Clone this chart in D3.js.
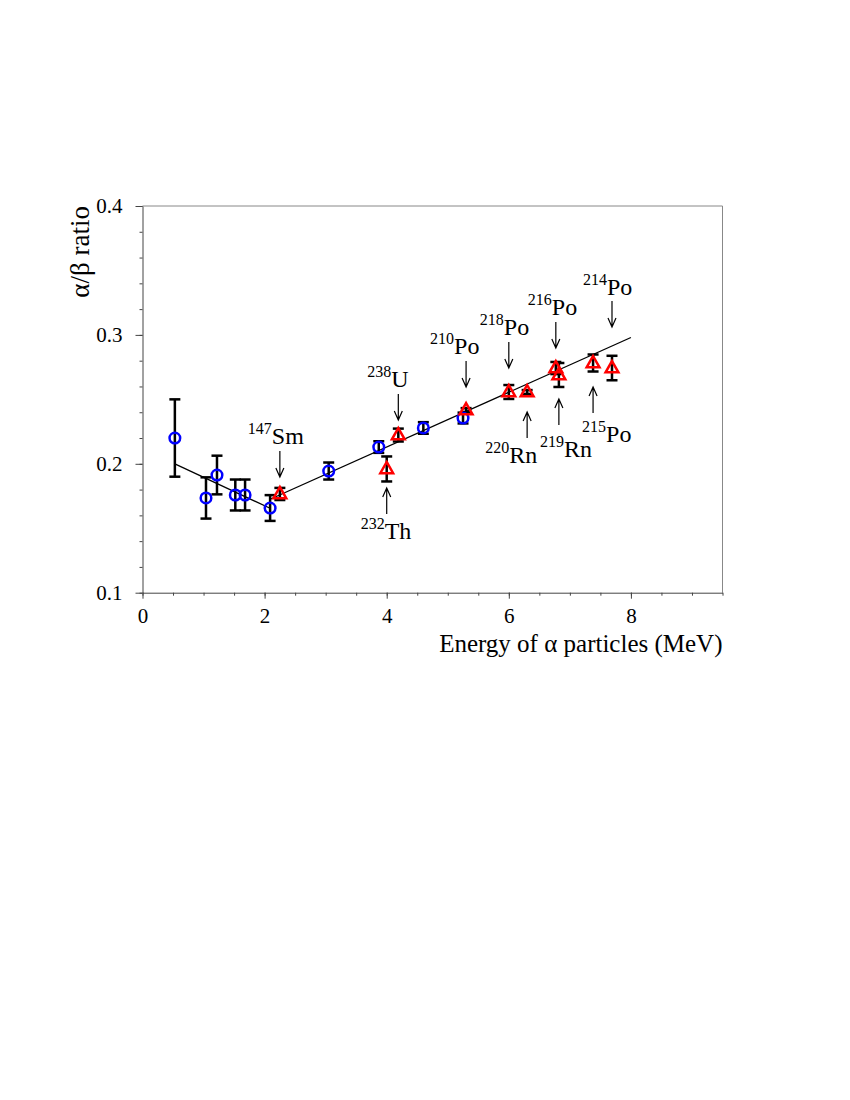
<!DOCTYPE html>
<html>
<head>
<meta charset="utf-8">
<script src="https://cdn.jsdelivr.net/npm/d3@7/dist/d3.min.js"></script>
<style>
  body { margin: 0; background: #fff; }
  text { font-family: "Liberation Serif", "Times New Roman", serif; fill: #000; }
</style>
</head>
<body>
<div id="chart"></div>
<script>
// Blue circles: measured points (energy in MeV, alpha/beta ratio, error)
const blueE = [0.53, 1.04, 1.22, 1.52, 1.68, 2.09, 3.05, 3.87, 4.60, 5.25];
const blueR = [0.220, 0.1735, 0.1913, 0.1758, 0.1758, 0.1657, 0.1944, 0.213, 0.2278, 0.2355];
const blueErr = [0.030, 0.016, 0.015, 0.012, 0.012, 0.010, 0.0066, 0.0045, 0.0045, 0.0042];

// Red triangles: alpha lines of the natural chains
const redE = [2.25, 4.00, 4.19, 5.30, 6.00, 6.30, 6.77, 6.82, 7.38, 7.69];
const redR = [0.1766, 0.196, 0.2223, 0.2417, 0.2557, 0.2557, 0.2743, 0.2689, 0.2782, 0.2743];
const redErr = [0.0047, 0.0097, 0.005, 0.0015, 0.0054, 0.0015, 0.0047, 0.0093, 0.0066, 0.0095];

// Two straight fits
const fitLow = [[0.53, 0.2000], [2.09, 0.1655]];
const fitHigh = [[2.09, 0.1725], [8.00, 0.2980]];

const xTicks = [0, 2, 4, 6, 8];
const yTicks = [0.1, 0.2, 0.3, 0.4];

// Isotope labels: mass, element, energy of arrow, arrow tip (ratio), direction
const labMass = ['147', '238', '210', '218', '216', '214', '232', '220', '219', '215'];
const labEl = ['Sm', 'U', 'Po', 'Po', 'Po', 'Po', 'Th', 'Rn', 'Rn', 'Po'];
const labE = [2.25, 4.19, 5.30, 6.00, 6.77, 7.69, 4.00, 6.30, 6.82, 7.38];
const labTip = [0.1898, 0.234, 0.2596, 0.2743, 0.2898, 0.3061, 0.1812, 0.2402, 0.2503, 0.2596];
const labDir = ['down', 'down', 'down', 'down', 'down', 'down', 'up', 'up', 'up', 'up'];

// label placement relative to arrow tail (pixels)
const labDx = [-32, -31, -36, -29, -28, -29, -26, -42, -19, -11];
const labDy = [-7, -7, -7, -7, -7, -6, 25, 25, 32, 29];

const W = 850, H = 1100,
  mLeft = 142.5, mRight = 722.5, mTop = 206, mBottom = 592.7,
  arrowLen = 26;

const svg = d3.select('#chart').append('svg')
  .attr('width', W).attr('height', H);

const x = d3.scaleLinear().domain([0, 9.5]).range([mLeft, mRight]);
const y = d3.scaleLinear().domain([0.1, 0.4]).range([mBottom, mTop]);

// frame (top and right in grey)
svg.append('path')
  .attr('d', `M${mLeft},${mTop}H${mRight}V${mBottom}`)
  .attr('fill', 'none').attr('stroke', '#888').attr('stroke-width', 1);

// minor ticks
svg.append('g').attr('transform', `translate(0,${mBottom})`)
  .call(d3.axisBottom(x).tickValues(d3.range(0, 9.51, 0.5)).tickSize(3).tickFormat(''))
  .call(g => g.select('.domain').remove())
  .call(g => g.selectAll('line').attr('stroke', '#444'));
svg.append('g').attr('transform', `translate(${mLeft},0)`)
  .call(d3.axisLeft(y).tickValues(d3.range(0.1, 0.401, 0.02)).tickSize(3).tickFormat(''))
  .call(g => g.select('.domain').remove())
  .call(g => g.selectAll('line').attr('stroke', '#444'));

// major axes
svg.append('g').attr('transform', `translate(0,${mBottom})`)
  .call(d3.axisBottom(x).tickValues(xTicks).tickSize(6).tickPadding(9).tickSizeOuter(0).tickFormat(d3.format('d')))
  .call(g => g.select('.domain').attr('stroke', '#444'))
  .call(g => g.selectAll('line').attr('stroke', '#444'))
  .call(g => g.selectAll('text').attr('font-size', 21).attr('font-family', 'Liberation Serif').attr('fill', '#000'));
svg.append('g').attr('transform', `translate(${mLeft},0)`)
  .call(d3.axisLeft(y).tickValues(yTicks).tickSize(7).tickPadding(13).tickSizeOuter(0).tickFormat(d3.format('.1f')))
  .call(g => g.select('.domain').attr('stroke', '#444'))
  .call(g => g.selectAll('line').attr('stroke', '#444'))
  .call(g => g.selectAll('text').attr('font-size', 21).attr('font-family', 'Liberation Serif').attr('fill', '#000'));

// axis titles
svg.append('text')
  .attr('x', mRight).attr('y', 652)
  .attr('text-anchor', 'end').attr('font-size', 25)
  .text('Energy of α particles (MeV)');
svg.append('text')
  .attr('transform', `translate(89,${mTop}) rotate(-90)`)
  .attr('text-anchor', 'end').attr('font-size', 27)
  .text('α/β ratio');

// fit lines
const line = d3.line().x(d => x(d[0])).y(d => y(d[1]));
[fitLow, fitHigh].forEach(f => {
  svg.append('path').attr('d', line(f))
    .attr('fill', 'none').attr('stroke', '#000').attr('stroke-width', 1.3);
});

// error bars
function errBars(E, R, Err) {
  const g = svg.append('g').attr('stroke', '#000').attr('stroke-width', 2.5);
  E.forEach((e, i) => {
    const px = x(e), y1 = y(R[i] + Err[i]), y2 = y(R[i] - Err[i]);
    g.append('line').attr('x1', px).attr('x2', px).attr('y1', y1).attr('y2', y2);
    g.append('line').attr('x1', px - 5.5).attr('x2', px + 5.5).attr('y1', y1).attr('y2', y1);
    g.append('line').attr('x1', px - 5.5).attr('x2', px + 5.5).attr('y1', y2).attr('y2', y2);
  });
}
errBars(blueE, blueR, blueErr);
errBars(redE, redR, redErr);

// markers
svg.append('g').selectAll('circle')
  .data(blueE).join('circle')
  .attr('cx', d => x(d)).attr('cy', (d, i) => y(blueR[i]))
  .attr('r', 5.3)
  .attr('fill', 'none').attr('stroke', '#0000ff').attr('stroke-width', 2.5);

svg.append('g').selectAll('path')
  .data(redE).join('path')
  .attr('transform', (d, i) => `translate(${x(d)},${y(redR[i])})`)
  .attr('d', 'M0,-7L6.4,4.3L-6.4,4.3Z')
  .attr('fill', 'none').attr('stroke', '#ff0000').attr('stroke-width', 2.5)
  .attr('stroke-linejoin', 'miter');

// annotations
labE.forEach((e, i) => {
  const px = x(e), tip = y(labTip[i]);
  const s = labDir[i] === 'down' ? -1 : 1;
  const tail = tip + s * arrowLen;
  const g = svg.append('g');
  g.append('path')
    .attr('d', `M${px},${tail}V${tip}M${px - 4},${tip + s * 9}L${px},${tip}L${px + 4},${tip + s * 9}`)
    .attr('fill', 'none').attr('stroke', '#000').attr('stroke-width', 1.2);
  const t = g.append('text')
    .attr('x', px + labDx[i]).attr('y', tail + labDy[i]);
  t.append('tspan').attr('font-size', 16).attr('dy', -10).text(labMass[i]);
  t.append('tspan').attr('font-size', 24).attr('dy', 10).text(labEl[i]);
});
</script>
</body>
</html>
